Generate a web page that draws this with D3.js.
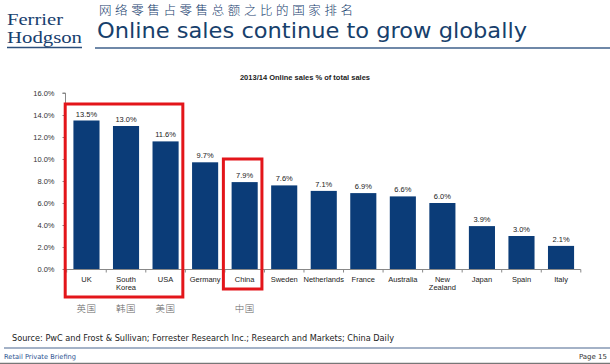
<!DOCTYPE html>
<html><head><meta charset="utf-8">
<script src="https://cdn.jsdelivr.net/npm/d3@7"></script>
<style>body{margin:0;background:#fff}svg{display:block}</style>
</head><body>
<svg id="c" width="610" height="364"></svg>
<script>
const categories = ["UK","South Korea","USA","Germany","China","Sweden","Netherlands","France","Australia","New Zealand","Japan","Spain","Italy"];
const values = [13.5,13.0,11.6,9.7,7.9,7.6,7.1,6.9,6.6,6.0,3.9,3.0,2.1];
const yTicks = [0,2,4,6,8,10,12,14,16];
const chineseLabels = [["UK","英国"],["South Korea","韩国"],["USA","美国"],["China","中国"]];
const highlightGroups = [["UK","USA",15],["China","China",10]];

const svg = d3.select("#c");
const navy = "#17406e";

// header logo
svg.append("text").attr("x",7).attr("y",25).attr("font-family","Liberation Serif, DejaVu Serif, serif")
  .attr("font-size",16).attr("fill",navy).attr("textLength",56).attr("lengthAdjust","spacingAndGlyphs").text("Ferrier");
svg.append("text").attr("x",7).attr("y",42.9).attr("font-family","Liberation Serif, DejaVu Serif, serif")
  .attr("font-size",16).attr("fill",navy).attr("textLength",75).attr("lengthAdjust","spacingAndGlyphs").text("Hodgson");
svg.append("line").attr("x1",7).attr("x2",82).attr("y1",47.5).attr("y2",47.5).attr("stroke","#2c4f7c").attr("stroke-width",1.5);

// header titles
svg.append("text").attr("x",99).attr("y",15.3).attr("fill",navy).attr("font-family","Noto Sans CJK SC").attr("font-weight",300)
  .attr("font-size",12.5).attr("textLength",254).attr("lengthAdjust","spacing").text("网络零售占零售总额之比的国家排名");
svg.append("text").attr("x",97).attr("y",38.2).attr("font-family","DejaVu Sans, sans-serif")
  .attr("font-size",22).attr("fill","#173f6c").attr("textLength",430).attr("lengthAdjust","spacingAndGlyphs").text("Online sales continue to grow globally");
svg.append("line").attr("x1",95).attr("x2",610).attr("y1",48).attr("y2",48).attr("stroke","#6f88a8").attr("stroke-width",2);

// chart title
svg.append("text").attr("x",305).attr("y",80).attr("text-anchor","middle").attr("font-family","Liberation Sans, Arial, sans-serif")
  .attr("font-weight","bold").attr("font-size",7.5).attr("fill","#222").text("2013/14 Online sales % of total sales");

const x = d3.scaleBand().domain(categories).range([66.7,580.8]).paddingInner(0.34).paddingOuter(0.17);
const y = d3.scaleLinear().domain([0,16]).range([269,93]);

const g = svg.append("g");
// y axis
const ya = g.append("g").attr("transform","translate(65.5,0)")
  .call(d3.axisLeft(y).tickValues(yTicks).tickSize(3).tickFormat(d=>d.toFixed(1)+"%"));
ya.select(".domain").attr("stroke","#888").attr("d","M-3,"+y(16)+"H0V"+y(0));
ya.selectAll(".tick line").attr("stroke","#888");
ya.selectAll(".tick text").attr("font-family","Liberation Sans, Arial, sans-serif").attr("font-size",7.5).attr("fill","#333").attr("x",-11);

// bars
g.selectAll("rect.bar").data(values).enter().append("rect").attr("class","bar")
  .attr("x",(d,i)=>x(categories[i])).attr("width",x.bandwidth())
  .attr("y",d=>y(d)).attr("height",d=>y(0)-y(d)).attr("fill","#0b3c78");

// value labels
g.selectAll("text.val").data(values).enter().append("text").attr("class","val")
  .attr("x",(d,i)=>x(categories[i])+x.bandwidth()/2).attr("y",d=>y(d)-4)
  .attr("text-anchor","middle").attr("font-family","Liberation Sans, Arial, sans-serif").attr("font-size",7.5).attr("fill","#222")
  .text(d=>d.toFixed(1)+"%");

// x axis
const step = x.step();
const start = x.range()[0];
const xa = g.append("g").attr("transform","translate(0,"+(y(0)+0.5)+")");
xa.append("line").attr("x1",65.5).attr("x2",start+step*categories.length).attr("stroke","#888");
xa.selectAll("line.t").data(d3.range(categories.length+1)).enter().append("line").attr("class","t")
  .attr("x1",i=>start+i*step).attr("x2",i=>start+i*step).attr("y1",0).attr("y2",3).attr("stroke","#888");
categories.forEach((c,i)=>{
  const cx = x(c)+x.bandwidth()/2;
  const parts = c==="South Korea"?["South","Korea"]:c==="New Zealand"?["New","Zealand"]:[c];
  const t = xa.append("text").attr("x",cx).attr("y",12).attr("text-anchor","middle")
    .attr("font-family","Liberation Sans, Arial, sans-serif").attr("font-size",7.5).attr("fill","#222");
  parts.forEach((p,j)=>t.append("tspan").attr("x",cx).attr("dy",j?8.5:0).text(p));
});

// highlight boxes
highlightGroups.forEach(([a,b,top])=>{
  const x0 = x(a) - x.step()*x.paddingOuter() - 1.5;
  const x1 = x(b) + x.bandwidth() + x.step()*x.paddingInner()/2 - 2.5;
  const y1 = a==="UK"?297:289;
  g.append("rect").attr("x",x0).attr("y",y(top)).attr("width",x1-x0).attr("height",y1-y(top))
    .attr("fill","none").attr("stroke","#e3151a").attr("stroke-width",3);
});

// chinese labels
chineseLabels.forEach(([c,t])=>{
  g.append("text").attr("x",x(c)+x.bandwidth()/2).attr("y",311.5).attr("text-anchor","middle")
    .attr("font-family","Noto Sans CJK SC").attr("font-weight",300).attr("font-size",9.5).attr("fill","#666")
    .attr("letter-spacing",0.5).text(t);
});

// source & footer
svg.append("text").attr("x",12).attr("y",340.5).attr("font-family","DejaVu Sans, sans-serif").attr("font-size",9)
  .attr("fill","#222").attr("textLength",382).attr("lengthAdjust","spacingAndGlyphs")
  .text("Source:  PwC and Frost & Sullivan; Forrester Research Inc.; Research and Markets; China Daily");
svg.append("line").attr("x1",4).attr("x2",610).attr("y1",348).attr("y2",348).attr("stroke","#4a6690").attr("stroke-width",1.2);
svg.append("text").attr("x",4).attr("y",359).attr("font-family","DejaVu Sans, sans-serif").attr("font-size",6.8)
  .attr("fill","#2a5290").attr("textLength",72).attr("lengthAdjust","spacingAndGlyphs").text("Retail Private Briefing");
svg.append("text").attr("x",607).attr("y",359).attr("text-anchor","end").attr("font-family","DejaVu Sans, sans-serif").attr("font-size",7)
  .attr("fill","#333").text("Page 15");
svg.append("line").attr("x1",0).attr("x2",610).attr("y1",363.5).attr("y2",363.5).attr("stroke","#777").attr("stroke-width",1.5);
</script>
</body></html>
